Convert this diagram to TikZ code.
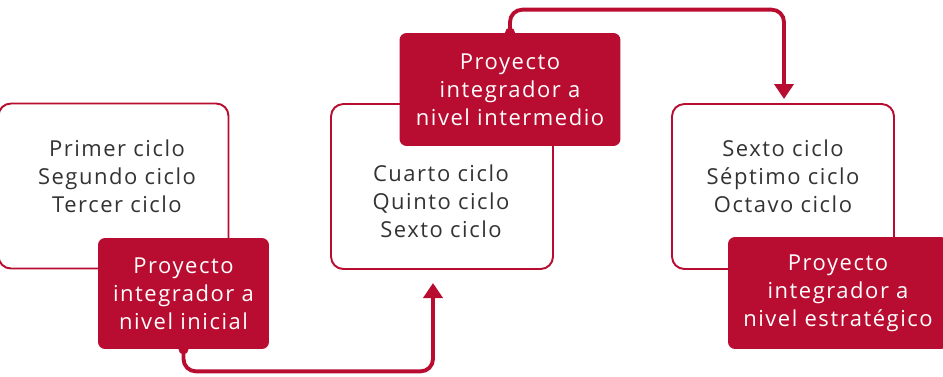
\documentclass[tikz,border=0pt]{standalone}
\usepackage{fontspec}
\setmainfont{Open Sans}[LetterSpace=7]
\usepackage{xcolor}
\usetikzlibrary{positioning}
\usetikzlibrary{shapes.geometric, arrows.meta}
\definecolor{rojo}{HTML}{B80D31}
\definecolor{gris}{HTML}{333333}
\tikzstyle{ciclo} = [rectangle, rounded corners=7pt, draw=rojo, line width=1.1pt, fill=white, minimum height=3.3cm]
\tikzstyle{texto} = [text=gris, align=center, font=\fontsize{12.5pt}{15.9pt}\selectfont]
\tikzstyle{proyecto} = [rectangle, rounded corners=4pt, fill=rojo, text=white, align=center, font=\fontsize{12.5pt}{15.9pt}\selectfont]
\tikzstyle{flecha} = [draw=rojo, line width=2.2pt, rounded corners=7pt, -{Triangle[width=0.38cm,length=0.3cm]}]

\begin{document}
\begin{tikzpicture}[x=0.02cm, y=-0.02cm]
    \useasboundingbox (0,0) rectangle (943,376);
    \clip (0,0) rectangle (943,376);
    % ciclos
    \node (c1) [ciclo, minimum width=4.6cm] at (113.5,186) {};
    \node (c2) [ciclo, minimum width=4.44cm] at (442,186.5) {};
    \node (c3) [ciclo, minimum width=4.44cm] at (783,186.5) {};
    \node (t1) [texto] at (117,176) {Primer ciclo\\Segundo ciclo\\Tercer ciclo};
    \node (t2) [texto] at (441,201) {Cuarto ciclo\\Quinto ciclo\\Sexto ciclo};
    \node (t3) [texto] at (783,176) {Sexto ciclo\\Séptimo ciclo\\Octavo ciclo};
    % proyectos integradores
    \node (p1) [proyecto, minimum width=3.42cm, minimum height=2.22cm] at (183.5,293.5) {Proyecto\\integrador a\\nivel inicial};
    \node (p2) [proyecto, minimum width=4.42cm, minimum height=2.26cm] at (510,89.5) {Proyecto\\integrador a\\nivel intermedio};
    \node (p3) [proyecto, minimum width=4.4cm, minimum height=2.24cm] at (838,293) {Proyecto\\integrador a\\nivel estratégico};
    % conexiones
    \coordinate (a1) at (433,283);
    \coordinate (a2) at (784,99);
    \fill [rojo] (p1.south) circle (0.1cm);
    \fill [rojo] (p2.north) circle (0.1cm);
    \draw [flecha] (p1.south) -- ++(0,22) -| (a1);
    \draw [flecha] (p2.north) -- ++(0,-23) -| (a2);
\end{tikzpicture}
\end{document}
